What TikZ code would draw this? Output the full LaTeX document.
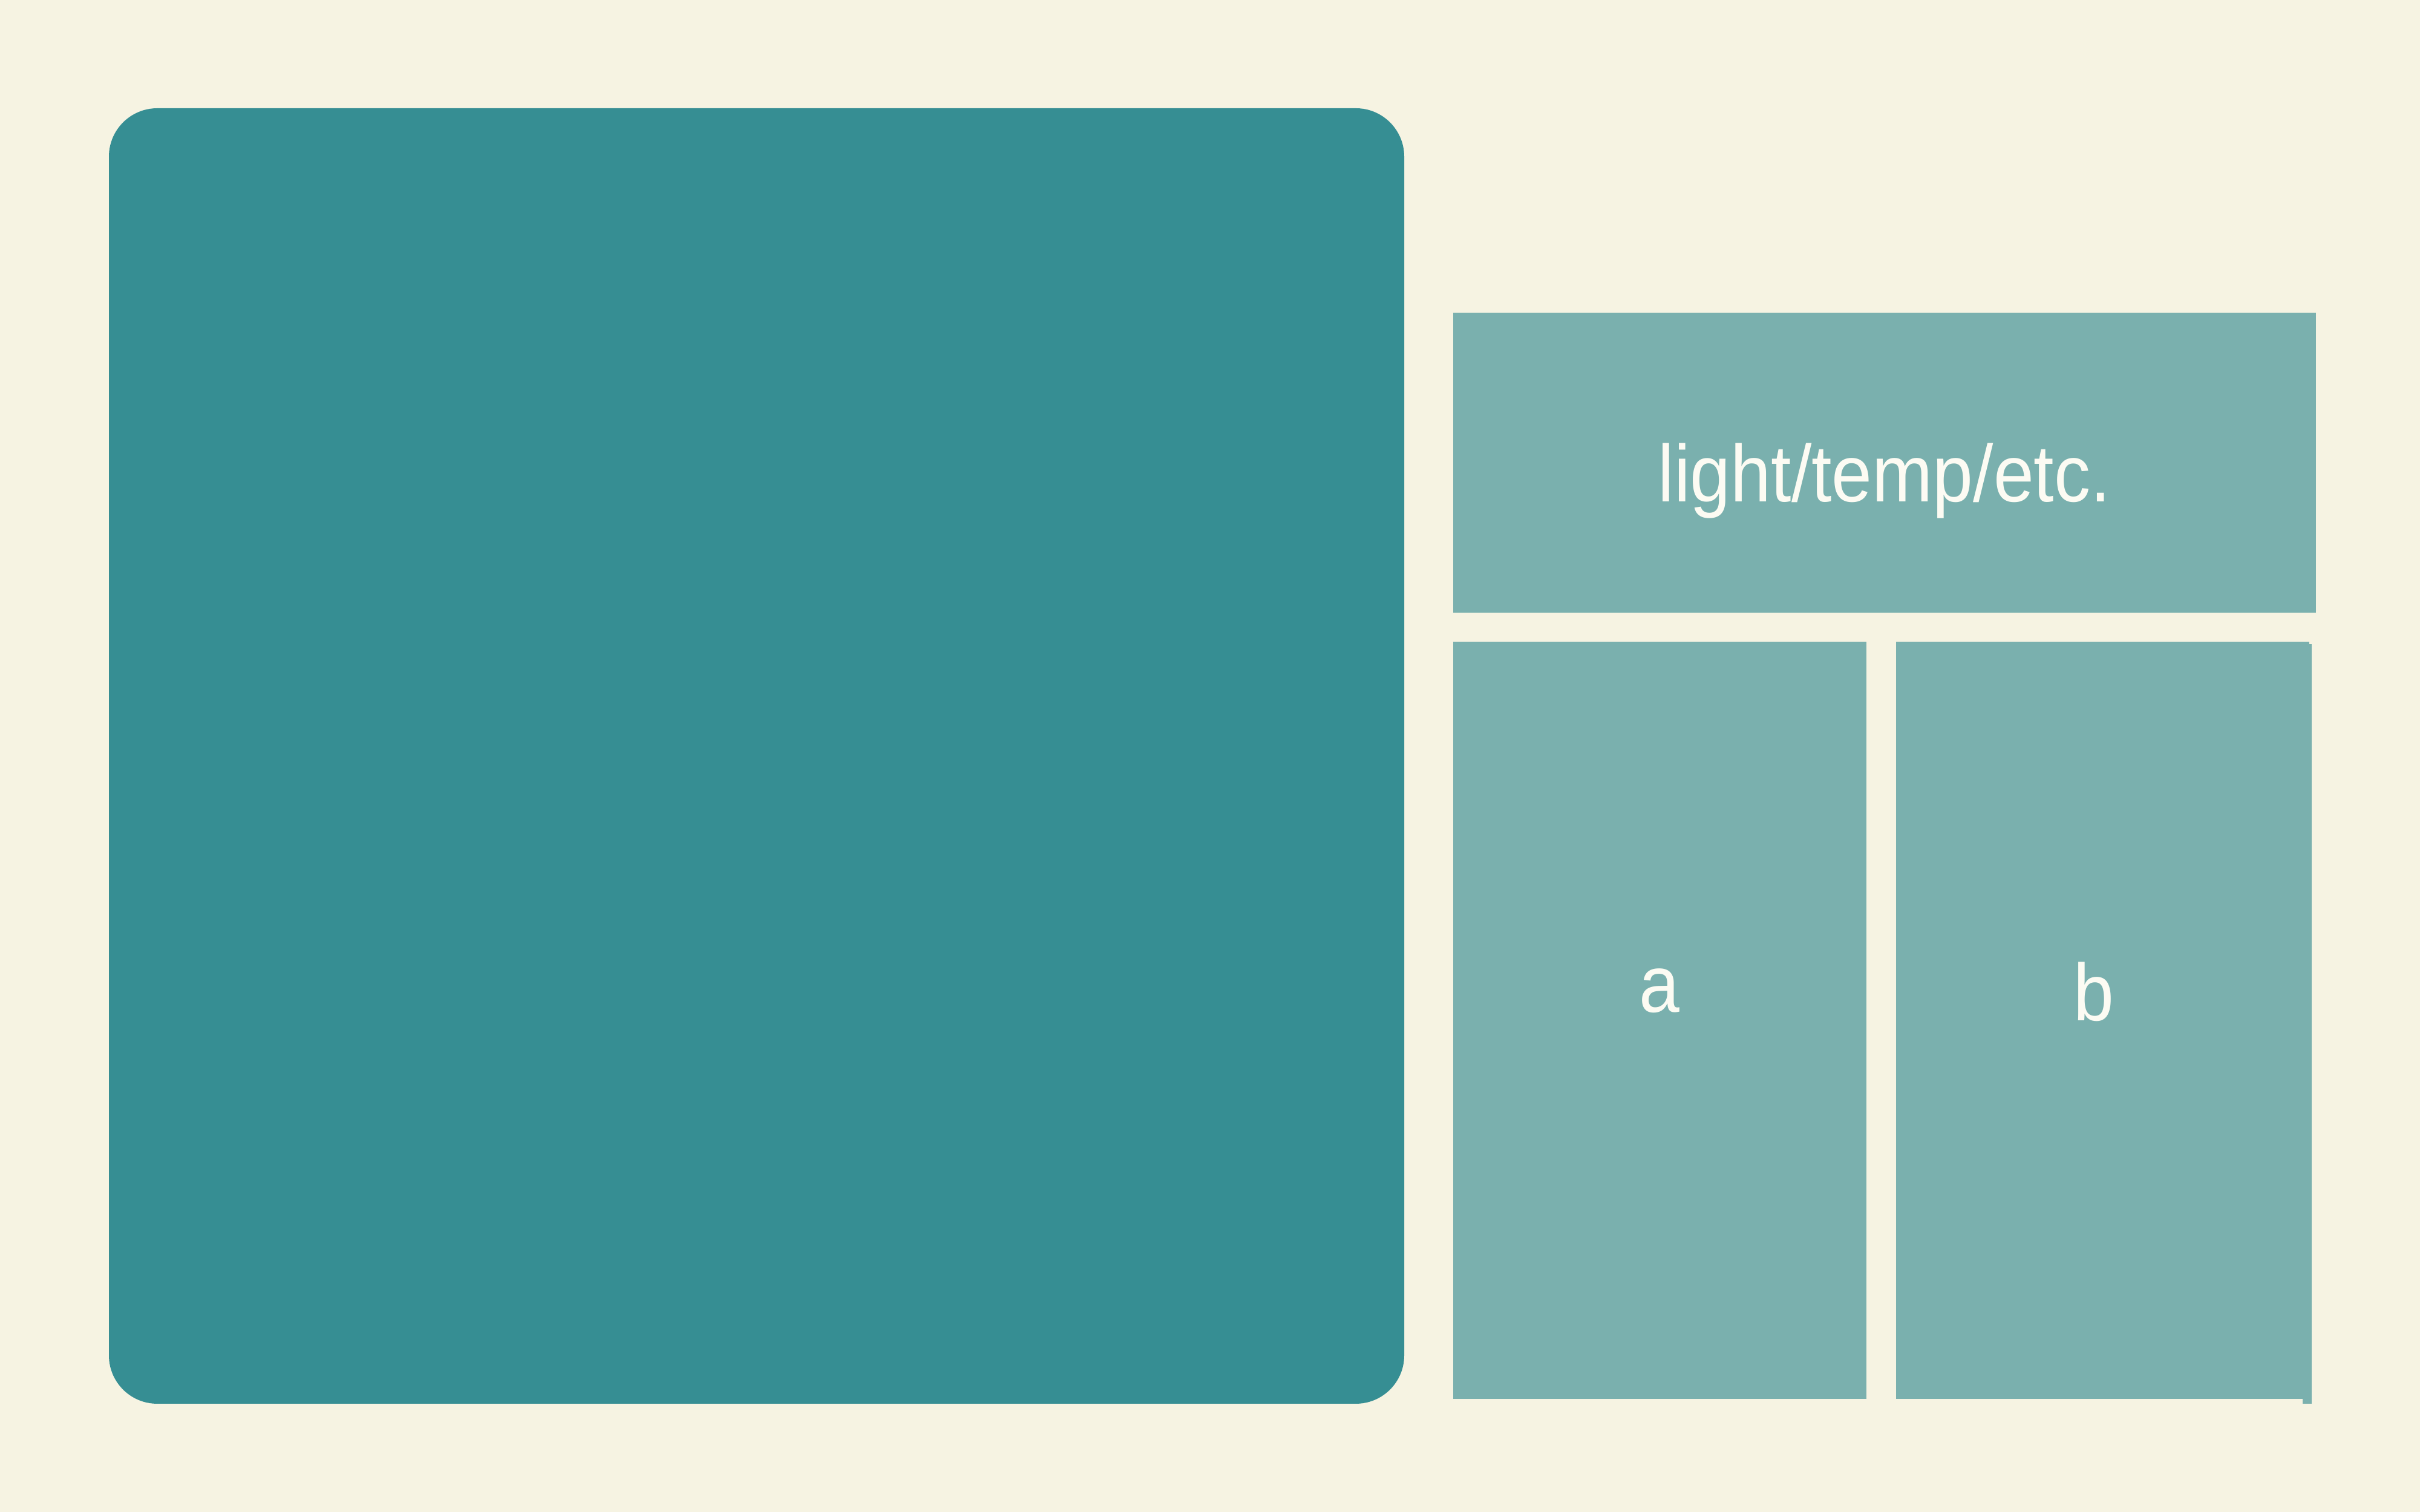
\documentclass[tikz,border=0pt]{standalone}
\usepackage{fontspec}
\usetikzlibrary{positioning}
\newfontfamily\lblfont{Liberation Sans}[FakeStretch=0.9]
\definecolor{paper}{HTML}{F6F3E2}
\definecolor{darkteal}{HTML}{368E93}
\definecolor{lightteal}{HTML}{7AB0AE}
\definecolor{lbltext}{HTML}{FCFBF3}

\begin{document}
\begin{tikzpicture}[
  panel/.style={fill=lightteal, draw=none, inner sep=0pt, anchor=south west},
  lbl/.style={text=lbltext, inner sep=0pt, anchor=base, font=\lblfont\fontsize{38}{45}\selectfont}
]
  \fill[paper] (0,0) rectangle (40,25);
  \useasboundingbox (0,0) rectangle (40,25);

  % big square
  \fill[darkteal, rounded corners=8mm] (1.80,1.79) rectangle (23.21,23.21);

  \node[panel, minimum width=14.26cm, minimum height=4.96cm] (sensor) at (24.01,14.86) {};
  \node[panel, minimum width=6.83cm, minimum height=12.52cm] (boxa) at (24.01,1.86) {};
  \node[panel, minimum width=6.83cm, minimum height=12.52cm] (boxb) at (31.33,1.86) {};
  \fill[lightteal] (38.06,1.79) rectangle (38.21,14.35);

  \node[lbl] (sensortxt) at ([yshift=-6.4mm]sensor.center) {light/temp/etc.};
  \node[lbl] (atxt) at ([yshift=1.4mm]boxa.center) {a};
  \node[lbl] (btxt) at ([xshift=-1.4mm]boxb.center) {b};

\end{tikzpicture}
\end{document}
